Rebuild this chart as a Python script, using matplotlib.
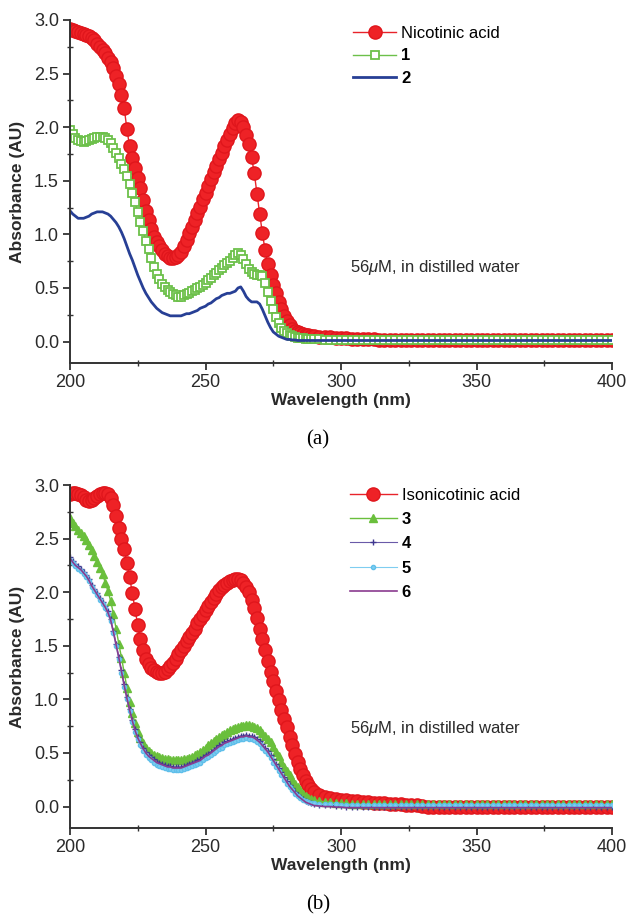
import numpy as np
import matplotlib
matplotlib.use("Agg")
import matplotlib.pyplot as plt
from matplotlib.ticker import MultipleLocator

plt.rcParams['font.family'] = ['Liberation Sans', 'DejaVu Sans']
plt.rcParams['mathtext.fontset'] = 'custom'
plt.rcParams['mathtext.rm'] = 'Liberation Sans'
plt.rcParams['mathtext.it'] = 'Liberation Sans:italic'

# wavelength grid: 1 nm steps up to 290 nm, 2 nm steps on the flat tail
wl = np.concatenate([np.arange(200, 291, 1), np.arange(292, 401, 2)])

# ---------------- panel (a) ----------------
nicotinic = [
    2.92, 2.91, 2.90, 2.89, 2.88, 2.87, 2.86, 2.85, 2.83, 2.81,
    2.78, 2.75, 2.72, 2.69, 2.65, 2.61, 2.55, 2.48, 2.40, 2.30,
    2.18, 1.98, 1.82, 1.71, 1.62, 1.53, 1.43, 1.32, 1.22, 1.13,
    1.05, 0.98, 0.93, 0.89, 0.85, 0.82, 0.80, 0.78, 0.78, 0.79,
    0.81, 0.84, 0.89, 0.95, 1.01, 1.07, 1.13, 1.20, 1.26, 1.33,
    1.39, 1.45, 1.52, 1.58, 1.64, 1.70, 1.76, 1.82, 1.88, 1.94,
    1.99, 2.04, 2.07, 2.05, 2.00, 1.93, 1.84, 1.72, 1.57, 1.38,
    1.19, 1.01, 0.85, 0.72, 0.62, 0.53, 0.45, 0.37, 0.30, 0.24,
    0.19, 0.15, 0.12, 0.10, 0.09, 0.08, 0.07, 0.065, 0.06, 0.055,
    0.05,
    0.045, 0.04, 0.04, 0.035, 0.03, 0.03, 0.025, 0.02, 0.02, 0.02, 0.02,
    0.015, 0.015, 0.015, 0.015, 0.015, 0.015, 0.015, 0.015, 0.015, 0.015, 0.015,
    0.015, 0.015, 0.015, 0.015, 0.015, 0.015, 0.015, 0.015, 0.015, 0.015, 0.015,
    0.015, 0.015, 0.015, 0.015, 0.015, 0.015, 0.015, 0.015, 0.015, 0.015, 0.015,
    0.015, 0.015, 0.015, 0.015, 0.015, 0.015, 0.015, 0.015, 0.015, 0.015, 0.015,
]
cpd1 = [
    1.97, 1.94, 1.90, 1.88, 1.87, 1.86, 1.87, 1.88, 1.89, 1.90,
    1.91, 1.91, 1.91, 1.90, 1.88, 1.85, 1.81, 1.76, 1.71, 1.66,
    1.61, 1.54, 1.47, 1.39, 1.30, 1.21, 1.12, 1.03, 0.94, 0.86,
    0.78, 0.70, 0.63, 0.58, 0.54, 0.51, 0.48, 0.46, 0.44, 0.43,
    0.42, 0.42, 0.43, 0.44, 0.45, 0.47, 0.48, 0.50, 0.51, 0.53,
    0.55, 0.57, 0.59, 0.62, 0.64, 0.67, 0.69, 0.71, 0.73, 0.75,
    0.78, 0.81, 0.83, 0.81, 0.77, 0.72, 0.68, 0.65, 0.63, 0.62,
    0.62, 0.61, 0.55, 0.46, 0.38, 0.30, 0.23, 0.17, 0.13, 0.10,
    0.08, 0.06, 0.05, 0.04, 0.035, 0.03, 0.03, 0.025, 0.02, 0.02,
    0.02,
    0.02, 0.015, 0.015, 0.015, 0.015, 0.01, 0.01, 0.01, 0.01, 0.01, 0.01,
    0.01, 0.01, 0.01, 0.01, 0.01, 0.01, 0.01, 0.01, 0.01, 0.01, 0.01,
    0.01, 0.01, 0.01, 0.01, 0.01, 0.01, 0.01, 0.01, 0.01, 0.01, 0.01,
    0.01, 0.01, 0.01, 0.01, 0.01, 0.01, 0.01, 0.01, 0.01, 0.01, 0.01,
    0.01, 0.01, 0.01, 0.01, 0.01, 0.01, 0.01, 0.01, 0.01, 0.01, 0.01,
]
cpd2 = [
    1.22, 1.19, 1.17, 1.15, 1.15, 1.15, 1.16, 1.17, 1.19, 1.20,
    1.21, 1.21, 1.21, 1.20, 1.19, 1.17, 1.14, 1.11, 1.07, 1.02,
    0.96, 0.89, 0.82, 0.76, 0.69, 0.62, 0.56, 0.50, 0.45, 0.41,
    0.37, 0.34, 0.31, 0.29, 0.27, 0.26, 0.25, 0.24, 0.24, 0.24,
    0.24, 0.24, 0.25, 0.26, 0.26, 0.27, 0.28, 0.29, 0.31, 0.32,
    0.33, 0.35, 0.36, 0.38, 0.40, 0.41, 0.43, 0.44, 0.45, 0.45,
    0.46, 0.47, 0.50, 0.51, 0.47, 0.42, 0.39, 0.37, 0.37, 0.37,
    0.35, 0.30, 0.24, 0.18, 0.13, 0.09, 0.07, 0.05, 0.04, 0.03,
    0.02, 0.02, 0.015, 0.015, 0.01, 0.01, 0.01, 0.01, 0.01, 0.01,
    0.01,
    0.01, 0.01, 0.01, 0.01, 0.01, 0.01, 0.01, 0.01, 0.01, 0.01, 0.01,
    0.01, 0.01, 0.01, 0.01, 0.01, 0.01, 0.01, 0.01, 0.01, 0.01, 0.01,
    0.01, 0.01, 0.01, 0.01, 0.01, 0.01, 0.01, 0.01, 0.01, 0.01, 0.01,
    0.01, 0.01, 0.01, 0.01, 0.01, 0.01, 0.01, 0.01, 0.01, 0.01, 0.01,
    0.01, 0.01, 0.01, 0.01, 0.01, 0.01, 0.01, 0.01, 0.01, 0.01, 0.01,
]

# ---------------- panel (b) ----------------
isonicotinic = [
    2.92, 2.93, 2.93, 2.92, 2.91, 2.89, 2.86, 2.85, 2.86, 2.88,
    2.90, 2.92, 2.93, 2.93, 2.92, 2.88, 2.81, 2.71, 2.60, 2.50,
    2.40, 2.27, 2.14, 1.99, 1.84, 1.69, 1.56, 1.46, 1.38, 1.33,
    1.29, 1.27, 1.26, 1.25, 1.25, 1.26, 1.28, 1.31, 1.34, 1.38,
    1.42, 1.46, 1.50, 1.54, 1.58, 1.62, 1.66, 1.71, 1.75, 1.79,
    1.83, 1.87, 1.91, 1.95, 1.98, 2.02, 2.05, 2.07, 2.09, 2.10,
    2.11, 2.12, 2.12, 2.11, 2.09, 2.05, 2.00, 1.93, 1.85, 1.76,
    1.66, 1.56, 1.46, 1.36, 1.26, 1.17, 1.08, 0.99, 0.90, 0.82,
    0.74, 0.65, 0.57, 0.49, 0.42, 0.35, 0.29, 0.24, 0.20, 0.16,
    0.14,
    0.11, 0.09, 0.08, 0.07, 0.065, 0.06, 0.055, 0.05, 0.045, 0.04, 0.035,
    0.03, 0.03, 0.025, 0.02, 0.02, 0.015, 0.01, 0.01, 0.005, 0.0, 0.0,
    0.0, 0.0, 0.0, 0.0, 0.0, 0.0, 0.0, 0.0, 0.0, 0.0, 0.0,
    0.0, 0.0, 0.0, 0.0, 0.0, 0.0, 0.0, 0.0, 0.0, 0.0, 0.0,
    0.0, 0.0, 0.0, 0.0, 0.0, 0.0, 0.0, 0.0, 0.0, 0.0, 0.0,
]
cpd3 = [
    2.69, 2.65, 2.62, 2.58, 2.55, 2.52, 2.49, 2.44, 2.39, 2.34,
    2.28, 2.23, 2.17, 2.09, 2.01, 1.92, 1.80, 1.66, 1.52, 1.39,
    1.25, 1.11, 0.98, 0.87, 0.78, 0.70, 0.64, 0.59, 0.55, 0.52,
    0.50, 0.48, 0.47, 0.46, 0.45, 0.44, 0.44, 0.43, 0.43, 0.43,
    0.43, 0.43, 0.44, 0.44, 0.45, 0.46, 0.48, 0.49, 0.51, 0.53,
    0.55, 0.57, 0.59, 0.61, 0.63, 0.65, 0.67, 0.68, 0.70, 0.71,
    0.72, 0.73, 0.74, 0.75, 0.75, 0.76, 0.76, 0.75, 0.74, 0.73,
    0.71, 0.69, 0.66, 0.63, 0.60, 0.56, 0.51, 0.47, 0.42, 0.37,
    0.33, 0.29, 0.25, 0.21, 0.18, 0.15, 0.12, 0.10, 0.08, 0.07,
    0.06,
    0.05, 0.045, 0.04, 0.035, 0.03, 0.03, 0.025, 0.025, 0.02, 0.02, 0.02,
    0.02, 0.02, 0.02, 0.02, 0.02, 0.02, 0.02, 0.02, 0.02, 0.02, 0.02,
    0.02, 0.02, 0.02, 0.02, 0.02, 0.02, 0.02, 0.02, 0.02, 0.02, 0.02,
    0.02, 0.02, 0.02, 0.02, 0.02, 0.02, 0.02, 0.02, 0.02, 0.02, 0.02,
    0.02, 0.02, 0.02, 0.02, 0.02, 0.02, 0.02, 0.02, 0.02, 0.02, 0.02,
]
cpd4 = [
    2.33, 2.29, 2.26, 2.24, 2.22, 2.19, 2.16, 2.12, 2.07, 2.03,
    1.99, 1.95, 1.91, 1.87, 1.82, 1.75, 1.64, 1.52, 1.40, 1.27,
    1.14, 1.02, 0.91, 0.81, 0.72, 0.65, 0.60, 0.55, 0.51, 0.48,
    0.46, 0.44, 0.42, 0.41, 0.40, 0.39, 0.38, 0.38, 0.37, 0.37,
    0.37, 0.37, 0.38, 0.39, 0.40, 0.41, 0.42, 0.43, 0.44, 0.46,
    0.48, 0.49, 0.51, 0.53, 0.55, 0.57, 0.58, 0.60, 0.61, 0.62,
    0.63, 0.64, 0.65, 0.66, 0.66, 0.67, 0.66, 0.66, 0.65, 0.63,
    0.61, 0.58, 0.55, 0.52, 0.48, 0.44, 0.40, 0.36, 0.32, 0.28,
    0.24, 0.20, 0.17, 0.14, 0.11, 0.09, 0.07, 0.05, 0.04, 0.03,
    0.02,
    0.015, 0.01, 0.01, 0.005, 0.005, 0.0, 0.0, 0.0, 0.0, 0.0, 0.0,
    0.0, 0.0, 0.0, 0.0, 0.0, 0.0, 0.0, 0.0, 0.0, 0.0, 0.0,
    0.0, 0.0, 0.0, 0.0, 0.0, 0.0, 0.0, 0.0, 0.0, 0.0, 0.0,
    0.0, 0.0, 0.0, 0.0, 0.0, 0.0, 0.0, 0.0, 0.0, 0.0, 0.0,
    0.0, 0.0, 0.0, 0.0, 0.0, 0.0, 0.0, 0.0, 0.0, 0.0, 0.0,
]
cpd5 = [
    2.30, 2.27, 2.24, 2.22, 2.20, 2.17, 2.14, 2.10, 2.05, 2.01,
    1.97, 1.93, 1.89, 1.85, 1.80, 1.73, 1.62, 1.50, 1.38, 1.25,
    1.12, 1.00, 0.89, 0.79, 0.70, 0.63, 0.57, 0.52, 0.48, 0.45,
    0.43, 0.41, 0.39, 0.38, 0.37, 0.36, 0.35, 0.35, 0.34, 0.34,
    0.34, 0.34, 0.35, 0.36, 0.37, 0.38, 0.39, 0.40, 0.41, 0.43,
    0.45, 0.46, 0.48, 0.50, 0.52, 0.54, 0.55, 0.57, 0.58, 0.59,
    0.60, 0.61, 0.62, 0.63, 0.63, 0.64, 0.63, 0.63, 0.62, 0.60,
    0.58, 0.55, 0.52, 0.49, 0.45, 0.41, 0.37, 0.33, 0.29, 0.25,
    0.21, 0.18, 0.15, 0.12, 0.10, 0.08, 0.06, 0.05, 0.04, 0.03,
    0.03,
    0.025, 0.02, 0.02, 0.02, 0.015, 0.015, 0.015, 0.015, 0.015, 0.015, 0.015,
    0.015, 0.015, 0.015, 0.015, 0.015, 0.015, 0.015, 0.015, 0.015, 0.015, 0.015,
    0.015, 0.015, 0.015, 0.015, 0.015, 0.015, 0.015, 0.015, 0.015, 0.015, 0.015,
    0.015, 0.015, 0.015, 0.015, 0.015, 0.015, 0.015, 0.015, 0.015, 0.015, 0.015,
    0.015, 0.015, 0.015, 0.015, 0.015, 0.015, 0.015, 0.015, 0.015, 0.015, 0.015,
]
cpd6 = [
    2.32, 2.28, 2.25, 2.23, 2.21, 2.18, 2.15, 2.11, 2.06, 2.02,
    1.98, 1.94, 1.90, 1.86, 1.81, 1.74, 1.63, 1.51, 1.39, 1.26,
    1.13, 1.01, 0.90, 0.80, 0.71, 0.64, 0.59, 0.54, 0.50, 0.47,
    0.45, 0.43, 0.41, 0.40, 0.39, 0.38, 0.37, 0.37, 0.36, 0.36,
    0.36, 0.36, 0.37, 0.38, 0.39, 0.40, 0.41, 0.42, 0.43, 0.45,
    0.47, 0.48, 0.50, 0.52, 0.54, 0.56, 0.57, 0.59, 0.60, 0.61,
    0.62, 0.63, 0.64, 0.65, 0.65, 0.66, 0.65, 0.65, 0.64, 0.62,
    0.60, 0.57, 0.54, 0.51, 0.47, 0.43, 0.39, 0.35, 0.31, 0.27,
    0.23, 0.19, 0.16, 0.13, 0.10, 0.08, 0.06, 0.04, 0.03, 0.02,
    0.01,
    0.005, 0.0, 0.0, -0.005, -0.005, -0.01, -0.01, -0.01, -0.01, -0.01, -0.01,
    -0.01, -0.01, -0.01, -0.01, -0.01, -0.01, -0.01, -0.01, -0.01, -0.01, -0.01,
    -0.01, -0.01, -0.01, -0.01, -0.01, -0.01, -0.01, -0.01, -0.01, -0.01, -0.01,
    -0.01, -0.01, -0.01, -0.01, -0.01, -0.01, -0.01, -0.01, -0.01, -0.01, -0.01,
    -0.01, -0.01, -0.01, -0.01, -0.01, -0.01, -0.01, -0.01, -0.01, -0.01, -0.01,
]

note = '56$\\mathit{\\mu}$M, in distilled water'
axis_col = '#333333'


def style_axes(ax):
    ax.set_xlim(200, 400)
    ax.set_ylim(-0.2, 3.0)
    ax.spines['top'].set_visible(False)
    ax.spines['right'].set_visible(False)
    for s in ('left', 'bottom'):
        ax.spines[s].set_color(axis_col)
        ax.spines[s].set_linewidth(1.4)
    ax.xaxis.set_major_locator(MultipleLocator(50))
    ax.xaxis.set_minor_locator(MultipleLocator(25))
    ax.yaxis.set_major_locator(MultipleLocator(0.5))
    ax.yaxis.set_minor_locator(MultipleLocator(0.25))
    ax.yaxis.set_major_formatter(plt.FormatStrFormatter('%.1f'))
    ax.tick_params(which='major', direction='out', length=5, width=1.3,
                   color=axis_col, labelcolor='#2a2a2a', labelsize=13, pad=3)
    ax.tick_params(which='minor', direction='inout', length=4, width=1.0, color=axis_col)
    ax.set_xlabel('Wavelength (nm)', fontsize=12.5, fontweight='bold', color='#2a2a2a', va='center')
    ax.set_ylabel('Absorbance (AU)', fontsize=12.5, fontweight='bold', color='#2a2a2a', va='center')
    ax.xaxis.set_label_coords(0.5, -0.108)
    ax.yaxis.set_label_coords(-0.096, 0.5)


fig = plt.figure(figsize=(6.29, 9.22), dpi=100)
ax1 = fig.add_axes([70 / 629, 1 - 363 / 922, 542 / 629, 343 / 922])
ax2 = fig.add_axes([70 / 629, 1 - 828 / 922, 542 / 629, 343 / 922])

# panel (a)
ax1.plot(wl, nicotinic, color='#e8232a', lw=1, marker='o', ms=9.5,
         mec='#e0161c', mfc='#ee2226', label='Nicotinic acid')
ax1.plot(wl, cpd1, color='#6cc04a', lw=1, marker='s', ms=6, mew=1.3,
         mec='#6cc04a', mfc='white', label='1')
ax1.plot(wl, cpd2, color='#273f95', lw=2, label='2')
style_axes(ax1)
ax1.text(303.3, 0.69, note, fontsize=12, va='center', ha='left', color='#2a2a2a')
leg1 = ax1.legend(loc='upper left', bbox_to_anchor=(353 / 629, 1 - 26 / 922),
                  bbox_transform=fig.transFigure, frameon=False, fontsize=12,
                  numpoints=1, handlelength=2.6, handletextpad=0.3,
                  labelspacing=0.45, borderpad=0, borderaxespad=0)
for t in leg1.get_texts()[1:]:
    t.set_fontweight('bold')

# panel (b)
ax2.plot(wl, isonicotinic, color='#e8232a', lw=1, marker='o', ms=9.5,
         mec='#e0161c', mfc='#ee2226', label='Isonicotinic acid')
ax2.plot(wl, cpd3, color='#6abf3c', lw=1, marker='^', ms=6, mec='#6abf3c',
         mfc='#6abf3c', label='3')
ax2.plot(wl, cpd4, color='#6a5aa8', lw=0.8, marker='+', ms=5, mew=1,
         mec='#3f3890', label='4')
ax2.plot(wl, cpd5, color='#7fcdf0', lw=0.8, marker='o', ms=3, mec='#5fbfea',
         mfc='#7fcdf0', label='5')
ax2.plot(wl, cpd6, color='#8a3b8f', lw=1.2, label='6')
style_axes(ax2)
ax2.text(303.3, 0.73, note, fontsize=12, va='center', ha='left', color='#2a2a2a')
leg2 = ax2.legend(loc='upper left', bbox_to_anchor=(350 / 629, 1 - 488 / 922),
                  bbox_transform=fig.transFigure, frameon=False, fontsize=12,
                  numpoints=1, handlelength=2.8, handletextpad=0.3,
                  labelspacing=0.55, borderpad=0, borderaxespad=0)
for t in leg2.get_texts()[1:]:
    t.set_fontweight('bold')

fig.text(318 / 629, 1 - 440 / 922, '(a)', ha='center', va='center',
         family='Liberation Serif', fontsize=15)
fig.text(318 / 629, 1 - 905 / 922, '(b)', ha='center', va='center',
         family='Liberation Serif', fontsize=15)

fig.savefig('out.png', dpi=100)
